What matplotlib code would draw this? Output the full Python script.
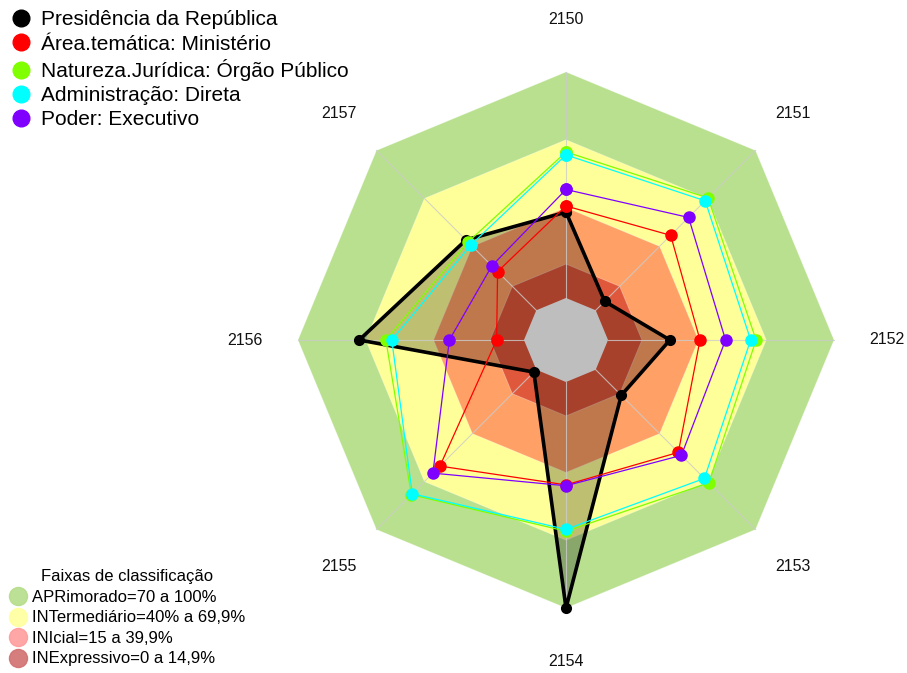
import numpy as np
import matplotlib.pyplot as plt
from matplotlib.lines import Line2D

plt.rcParams['font.family'] = ['Liberation Sans', 'DejaVu Sans']

eixos = ['2150', '2151', '2152', '2153', '2154', '2155', '2156', '2157']

presidencia = [38, 5.6, 27.4, 16, 100, 1.5, 72.9, 44]
ministerio = [40.7, 46.9, 40.7, 51.7, 45.5, 60.3, 12.1, 24.2]
orgao_publico = [64.6, 70.3, 65.5, 70.8, 66, 78.2, 61.1, 42.7]
adm_direta = [63.3, 68.5, 63.1, 68, 65.2, 77.6, 58.5, 40.9]
poder_exec = [48, 58.1, 52, 53.6, 45.9, 64.7, 33, 27.8]

series = [
    ('Presidência da República', presidencia, '#000000'),
    ('Área.temática: Ministério', ministerio, '#FF0000'),
    ('Natureza.Jurídica: Órgão Público', orgao_publico, '#7FFF00'),
    ('Administração: Direta', adm_direta, '#00FFFF'),
    ('Poder: Executivo', poder_exec, '#7F00FF'),
]

faixas = ['APRimorado=70 a 100%', 'INTermediário=40% a 69,9%',
          'INIcial=15 a 39,9%', 'INExpressivo=0 a 14,9%']
faixa_lim = [100, 70, 40, 15]
faixa_cor = ['#B8E08E', '#FFFF99', '#FFA066', '#E0583C']
faixa_leg = ['#B5DD8A', '#FFFF9E', '#FF9C9C', '#D27070']

r0 = 18.6  # offset of the centre hole
ang = np.arange(len(eixos)) * 2 * np.pi / len(eixos)


def xy(vals):
    r = np.asarray(vals, dtype=float) + r0
    x = r * np.sin(ang)
    y = r * np.cos(ang)
    return np.append(x, x[0]), np.append(y, y[0])


fig = plt.figure(figsize=(9.07, 6.73), dpi=100)
ax = fig.add_axes([0, 0, 1, 1])
ax.set_xlim(-566 / 2.26, (907 - 566) / 2.26)
ax.set_ylim(-(673 - 340) / 2.26, 340 / 2.26)
ax.set_aspect('equal')
ax.axis('off')

# background bands
for lim, cor in zip(faixa_lim, faixa_cor):
    x, y = xy([lim] * len(eixos))
    ax.fill(x, y, color=cor, ec=(1, 1, 1, 0.35), lw=0.6, zorder=1)

# black series area
x, y = xy(presidencia)
ax.fill(x, y, color='black', alpha=0.25, lw=0, zorder=2)

# centre hole
x, y = xy([0] * len(eixos))
ax.fill(x, y, color='#BEBEBE', lw=0, zorder=3)

# spokes
for a in ang:
    ax.plot([r0 * np.sin(a), (100 + r0) * np.sin(a)],
            [r0 * np.cos(a), (100 + r0) * np.cos(a)],
            color='#CCCCCC', lw=0.8, alpha=0.8, zorder=4)

for nome, vals, cor in series:
    x, y = xy(vals)
    if cor == '#000000':
        ax.plot(x, y, color=cor, lw=2.6, marker='o', ms=7, zorder=5)
    else:
        ax.plot(x, y, color=cor, lw=0.9, marker='o', ms=8, zorder=6)

# axis labels
rl = 321 / 2.26
for nome, a in zip(eixos, ang):
    ax.text(rl * np.sin(a), rl * np.cos(a), nome, ha='center', va='center',
            fontsize=11.5, color='#111111')

h1 = [Line2D([], [], ls='', marker='o', ms=12, color=c) for _, _, c in series]
leg1 = fig.legend(h1, [n for n, _, _ in series], loc='upper left',
                  bbox_to_anchor=(0.0, 1.0), frameon=False, fontsize=15,
                  handlelength=1.0, handletextpad=0.45, labelspacing=0.25,
                  borderaxespad=0.1)

h2 = [Line2D([], [], ls='', marker='o', ms=13, color=c, alpha=0.9) for c in faixa_leg]
leg2 = fig.legend(h2, faixas, loc='lower left', bbox_to_anchor=(0.003, 0.0),
                  frameon=False, fontsize=12, title='Faixas de classificação',
                  title_fontsize=12, handlelength=1.0, handletextpad=0.35,
                  labelspacing=0.33, borderaxespad=0.0)

fig.savefig('out.png', dpi=100)
